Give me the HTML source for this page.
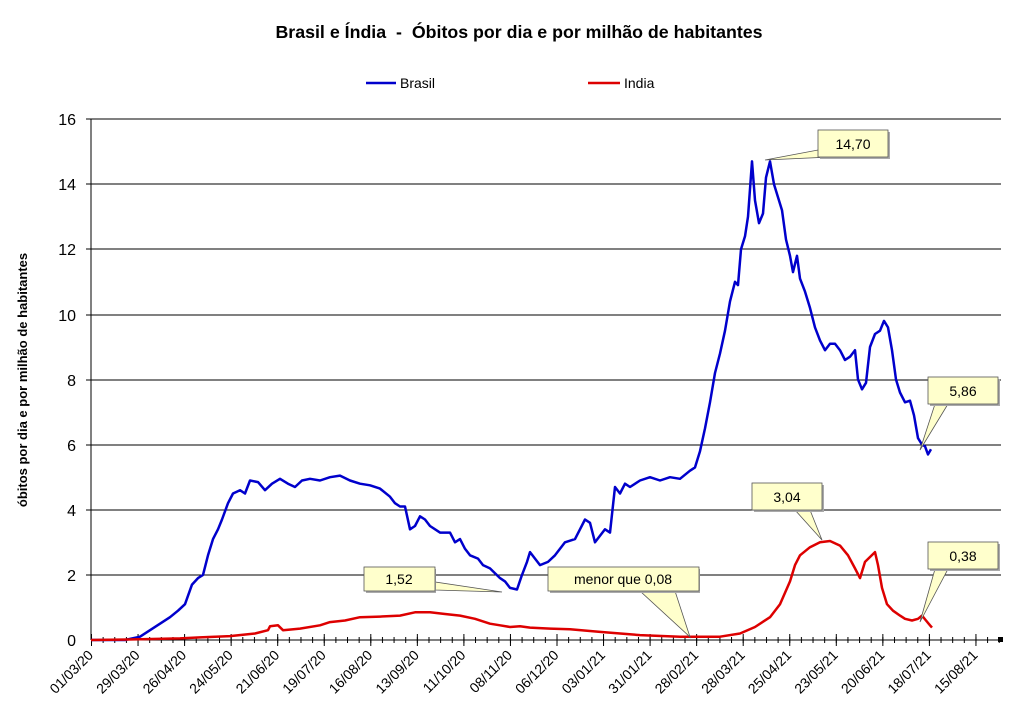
<!DOCTYPE html>
<html><head><meta charset="utf-8"><style>
body{margin:0;background:#fff;}
svg{display:block;font-family:"Liberation Sans",Arial,sans-serif;}
</style></head><body>
<svg width="1024" height="714" viewBox="0 0 1024 714" xmlns="http://www.w3.org/2000/svg">
<defs>
<pattern id="mn" x="91" y="0" width="11.6375" height="714" patternUnits="userSpaceOnUse"><line x1="0.5" y1="637" x2="0.5" y2="643" stroke="#000" stroke-width="1"/></pattern>
<pattern id="mj" x="91" y="0" width="46.55" height="714" patternUnits="userSpaceOnUse"><line x1="0.5" y1="634" x2="0.5" y2="646" stroke="#000" stroke-width="1"/></pattern>
</defs>
<rect width="1024" height="714" fill="#fff"/>
<text x="519" y="38" text-anchor="middle" font-size="17.8" font-weight="bold" xml:space="preserve" style="white-space:pre">Brasil e Índia  -  Óbitos por dia e por milhão de habitantes</text>
<line x1="366" y1="83" x2="396" y2="83" stroke="#0000cc" stroke-width="2.5"/>
<text x="400" y="88" font-size="14">Brasil</text>
<line x1="588" y1="83" x2="620" y2="83" stroke="#dd0000" stroke-width="2.5"/>
<text x="624" y="88" font-size="14">India</text>
<g stroke="#000" stroke-width="1" shape-rendering="crispEdges">
<line x1="91" y1="575" x2="1001" y2="575"/><line x1="91" y1="510" x2="1001" y2="510"/>
<line x1="91" y1="445" x2="1001" y2="445"/><line x1="91" y1="380" x2="1001" y2="380"/>
<line x1="91" y1="315" x2="1001" y2="315"/><line x1="91" y1="249" x2="1001" y2="249"/>
<line x1="91" y1="184" x2="1001" y2="184"/><line x1="91" y1="119" x2="1001" y2="119"/>
<line x1="91" y1="119" x2="91" y2="640"/>
<line x1="91" y1="640" x2="1001" y2="640"/>
<line x1="86" y1="575" x2="91" y2="575"/><line x1="86" y1="510" x2="91" y2="510"/><line x1="86" y1="445" x2="91" y2="445"/><line x1="86" y1="380" x2="91" y2="380"/><line x1="86" y1="315" x2="91" y2="315"/><line x1="86" y1="249" x2="91" y2="249"/><line x1="86" y1="184" x2="91" y2="184"/><line x1="86" y1="119" x2="91" y2="119"/>
</g>
<rect x="91" y="630" width="909" height="20" fill="url(#mn)"/>
<rect x="91" y="630" width="909" height="20" fill="url(#mj)"/>
<g font-size="16" text-anchor="end">
<text x="76" y="646">0</text><text x="76" y="581">2</text><text x="76" y="516">4</text><text x="76" y="451">6</text>
<text x="76" y="386">8</text><text x="76" y="321">10</text><text x="76" y="255">12</text><text x="76" y="190">14</text><text x="76" y="125">16</text>
</g>
<text transform="translate(27,380) rotate(-90)" text-anchor="middle" font-size="13" font-weight="bold">óbitos por dia e por milhão de habitantes</text>
<g font-size="14" text-anchor="end">
<text transform="translate(94,656) rotate(-45)">01/03/20</text>
<text transform="translate(140.6,656) rotate(-45)">29/03/20</text>
<text transform="translate(187.1,656) rotate(-45)">26/04/20</text>
<text transform="translate(233.7,656) rotate(-45)">24/05/20</text>
<text transform="translate(280.2,656) rotate(-45)">21/06/20</text>
<text transform="translate(326.8,656) rotate(-45)">19/07/20</text>
<text transform="translate(373.3,656) rotate(-45)">16/08/20</text>
<text transform="translate(419.9,656) rotate(-45)">13/09/20</text>
<text transform="translate(466.4,656) rotate(-45)">11/10/20</text>
<text transform="translate(513,656) rotate(-45)">08/11/20</text>
<text transform="translate(559.5,656) rotate(-45)">06/12/20</text>
<text transform="translate(606,656) rotate(-45)">03/01/21</text>
<text transform="translate(652.6,656) rotate(-45)">31/01/21</text>
<text transform="translate(699.2,656) rotate(-45)">28/02/21</text>
<text transform="translate(745.7,656) rotate(-45)">28/03/21</text>
<text transform="translate(792.3,656) rotate(-45)">25/04/21</text>
<text transform="translate(838.8,656) rotate(-45)">23/05/21</text>
<text transform="translate(885.4,656) rotate(-45)">20/06/21</text>
<text transform="translate(931.9,656) rotate(-45)">18/07/21</text>
<text transform="translate(978.5,656) rotate(-45)">15/08/21</text>
</g>
<rect x="998" y="637" width="5" height="5" fill="#000"/>
<polyline fill="none" stroke="#0000cc" stroke-width="2.5" stroke-linejoin="round" points="91,640 125,640 140,636.7 150,630.2 160,623.7 170,617.2 178,610.7 185,604.2 192,584.6 198,578.1 203,574.9 208,555.3 213,539.1 218,529.3 222,519.5 228,503.2 233,493.5 240,490.2 245,493.5 250,480.5 258,482.1 265,490.2 272,483.7 280,478.8 288,483.7 295,487 302,480.5 310,478.8 320,480.5 330,477.2 340,475.6 350,480.5 360,483.7 370,485.3 380,488.6 390,496.7 395,503.2 400,506.5 405,506.5 410,529.3 415,526 420,516.3 425,519.5 430,526 440,532.6 450,532.6 455,542.3 460,539.1 465,548.8 470,555.3 478,558.6 483,565.1 490,568.4 500,578.1 505,581.4 510,587.9 517,589.5 522,574.9 527,561.9 530,552.1 535,558.6 540,565.1 548,561.9 555,555.3 565,542.3 575,539.1 580,529.3 585,519.5 590,522.8 595,542.3 600,535.8 605,529.3 610,532.6 615,487 620,493.5 625,483.7 630,487 640,480.5 650,477.2 660,480.5 670,477.2 680,478.8 690,470.7 695,467.4 700,451.2 705,428.4 710,402.3 715,373 720,353.5 725,330.7 730,301.4 735,281.8 738,285.1 741,249.3 745,236.3 748,216.7 752,161.4 755,200.4 759,223.2 763,213.5 766,177.6 770,161.4 774,184.2 778,197.2 782,210.2 786,239.5 790,255.8 793,272.1 797,255.8 800,278.6 805,291.6 810,307.9 815,327.4 820,340.4 825,350.2 830,343.7 835,343.7 840,350.2 845,360 850,356.7 855,350.2 858,379.5 862,389.3 866,382.8 870,347 875,334 880,330.7 884,320.9 888,327.4 892,350.2 896,379.5 900,392.5 905,402.3 910,400.7 914,415.3 918,438.1 922,444.6 925,446.3 928,454.4 931,449.2"/>
<polyline fill="none" stroke="#dd0000" stroke-width="2.5" stroke-linejoin="round" points="91,640 140,639.3 180,638.4 200,637.4 230,636.1 255,633.5 268,630.2 270,626.3 278,625.3 283,630.2 300,628.6 320,625.3 330,622.1 345,620.5 360,617.2 380,616.6 400,615.6 415,612.3 430,612.3 445,614 460,615.6 475,618.8 490,623.7 500,625.3 510,627 520,626.3 530,627.6 550,628.6 570,629.3 600,631.9 640,635.1 680,636.7 720,636.7 740,633.5 755,627 770,617.2 780,604.2 790,581.4 795,565.1 800,555.3 810,547.2 820,542.3 830,541 840,545.6 848,555.3 855,568.4 860,578.1 865,561.9 870,557 875,552.1 878,565.1 882,587.9 887,604.2 893,610.7 900,615.6 905,618.8 912,620.5 918,618.8 922,615.6 926,620.5 930,625.3 932,627.6"/>
<g font-size="14" stroke-width="0.8">
<polygon points="818,150 830,157 765,160" fill="#ffffcc" stroke="#555"/>
<rect x="820" y="132" width="70" height="27" fill="#aaa"/><rect x="818" y="130" width="70" height="27" fill="#ffffcc" stroke="#555"/>
<text x="853" y="149" text-anchor="middle">14,70</text>
<polygon points="935,404 948,404 920,450" fill="#ffffcc" stroke="#555"/>
<rect x="930" y="379" width="70" height="27" fill="#aaa"/><rect x="928" y="377" width="70" height="27" fill="#ffffcc" stroke="#555"/>
<text x="963" y="396" text-anchor="middle">5,86</text>
<polygon points="795,510 810,510 822,540" fill="#ffffcc" stroke="#555"/>
<rect x="754" y="485" width="70" height="27" fill="#aaa"/><rect x="752" y="483" width="70" height="27" fill="#ffffcc" stroke="#555"/>
<text x="787" y="502" text-anchor="middle">3,04</text>
<polygon points="935,569 948,569 920,622" fill="#ffffcc" stroke="#555"/>
<rect x="930" y="544" width="70" height="27" fill="#aaa"/><rect x="928" y="542" width="70" height="27" fill="#ffffcc" stroke="#555"/>
<text x="963" y="561" text-anchor="middle">0,38</text>
<polygon points="435,582 435,590 502,592" fill="#ffffcc" stroke="#555"/>
<rect x="366" y="569" width="70" height="24" fill="#aaa"/><rect x="364" y="567" width="71" height="24" fill="#ffffcc" stroke="#555"/>
<text x="399" y="584" text-anchor="middle">1,52</text>
<polygon points="640,591 675,591 690,637" fill="#ffffcc" stroke="#555"/>
<rect x="550" y="569" width="150" height="24" fill="#aaa"/><rect x="548" y="567" width="151" height="24" fill="#ffffcc" stroke="#555"/>
<text x="623" y="584" text-anchor="middle">menor que 0,08</text>
</g>
</svg>
</body></html>
